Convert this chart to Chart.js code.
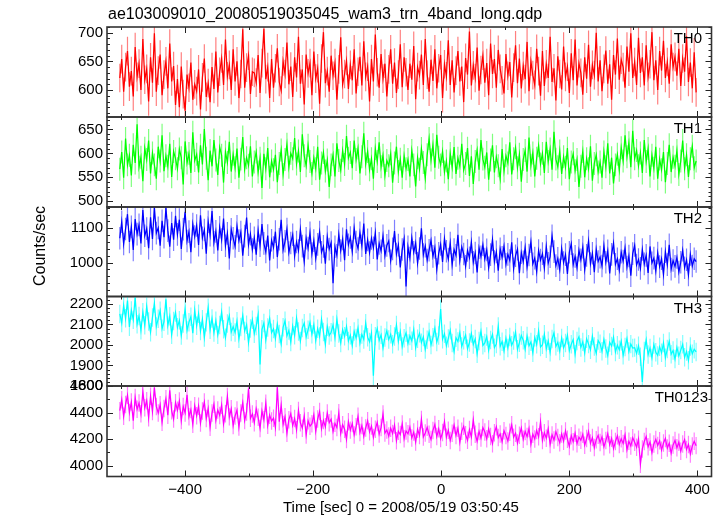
<!DOCTYPE html>
<html><head><meta charset="utf-8">
<script src="https://cdn.jsdelivr.net/npm/chart.js@4.4.0/dist/chart.umd.min.js"></script>
<style>
html,body{margin:0;padding:0;background:#fff;}
#wrap{position:relative;width:724px;height:516px;overflow:hidden;font-family:"Liberation Sans",Arial,Helvetica,sans-serif;}
canvas{position:absolute;left:0;top:0;}
.txt{position:absolute;color:#000;white-space:nowrap;font-size:15px;line-height:15px;}
</style></head><body>
<div id="wrap">
<canvas id="c0" width="724" height="516"></canvas>
<canvas id="c1" width="724" height="516"></canvas>
<canvas id="c2" width="724" height="516"></canvas>
<canvas id="c3" width="724" height="516"></canvas>
<canvas id="c4" width="724" height="516"></canvas>
<div class="txt" style="left:108px;top:6px;font-size:16px;line-height:16px;">ae103009010_20080519035045_wam3_trn_4band_long.qdp</div>
<div class="txt" style="left:32px;top:192px;height:108px;width:16px;font-size:16px;line-height:16px;writing-mode:vertical-rl;transform:rotate(180deg);text-align:center;">Counts/sec</div>
<div class="txt" style="left:283px;top:499px;">Time [sec] 0 = 2008/05/19 03:50:45</div>
<div class="txt" style="right:22px;top:30px;">TH0</div>
<div class="txt" style="right:22px;top:120px;">TH1</div>
<div class="txt" style="right:22px;top:210px;">TH2</div>
<div class="txt" style="right:22px;top:300px;">TH3</div>
<div class="txt" style="right:16px;top:389px;">TH0123</div>
</div>
<script>
// ---- data ----
const times = [
-502,-499,-496,-493,-490,-487,-484,-481,-478,-475,
-472,-469,-466,-463,-460,-457,-454,-451,-448,-445,
-442,-439,-436,-433,-430,-427,-424,-421,-418,-415,
-412,-409,-406,-403,-400,-397,-394,-391,-388,-385,
-382,-379,-376,-373,-370,-367,-364,-361,-358,-355,
-352,-349,-346,-343,-340,-337,-334,-331,-328,-325,
-322,-319,-316,-313,-310,-307,-304,-301,-298,-295,
-292,-289,-286,-283,-280,-277,-274,-271,-268,-265,
-262,-259,-256,-253,-250,-247,-244,-241,-238,-235,
-232,-229,-226,-223,-220,-217,-214,-211,-208,-205,
-202,-199,-196,-193,-190,-187,-184,-181,-178,-175,
-172,-169,-166,-163,-160,-157,-154,-151,-148,-145,
-142,-139,-136,-133,-130,-127,-124,-121,-118,-115,
-112,-109,-106,-103,-100,-97,-94,-91,-88,-85,
-82,-79,-76,-73,-70,-67,-64,-61,-58,-55,
-52,-49,-46,-43,-40,-37,-34,-31,-28,-25,
-22,-19,-16,-13,-10,-7,-4,-1,2,5,
8,11,14,17,20,23,26,29,32,35,
38,41,44,47,50,53,56,59,62,65,
68,71,74,77,80,83,86,89,92,95,
98,101,104,107,110,113,116,119,122,125,
128,131,134,137,140,143,146,149,152,155,
158,161,164,167,170,173,176,179,182,185,
188,191,194,197,200,203,206,209,212,215,
218,221,224,227,230,233,236,239,242,245,
248,251,254,257,260,263,266,269,272,275,
278,281,284,287,290,293,296,299,302,305,
308,311,314,317,320,323,326,329,332,335,
338,341,344,347,350,353,356,359,362,365,
368,371,374,377,380,383,386,389,392,395,
398];

const th0 = [
621,654,597,640,668,606,633,589,675,623,
646,600,689,618,637,580,657,613,699,597,
634,662,591,627,650,603,681,615,642,574,
619,570,641,593,564,627,604,648,583,610,
598,636,566,622,655,588,612,579,640,602,
667,596,632,655,609,688,624,644,600,671,
615,650,586,628,706,604,639,660,593,632,
630,613,661,595,647,707,619,640,586,654,
604,638,673,614,599,650,628,683,610,641,
588,657,622,693,611,636,575,662,629,647,
591,667,620,638,576,655,701,612,633,597,
660,625,647,583,636,692,610,628,651,602,
644,617,671,594,632,658,608,685,623,641,
580,654,615,697,631,604,663,620,646,589,
636,671,611,648,595,627,680,605,657,631,
600,646,618,677,584,640,626,662,609,689,
627,597,653,616,671,603,638,661,586,645,
624,687,609,652,596,634,668,615,641,579,
656,627,702,608,643,621,674,599,635,660,
613,647,591,681,628,654,604,670,637,617,
594,663,625,649,587,639,678,612,655,603,
642,619,684,598,650,626,609,672,633,590,
668,607,645,621,693,614,638,582,659,628,
601,676,623,641,595,664,617,688,608,647,
630,592,657,620,679,606,644,626,700,615,
652,598,637,669,611,645,583,661,627,690,
618,653,640,604,676,632,699,621,649,609,
691,630,657,608,678,623,645,701,617,652,
600,668,634,686,621,649,611,680,640,658,
625,672,607,655,632,694,614,648,603,666,
596];

const th1 = [
567,603,549,631,576,596,554,618,580,661,
571,592,542,611,587,627,558,601,576,547,
614,584,638,563,595,573,620,551,604,589,
568,609,591,535,625,580,600,559,644,585,
598,560,617,577,651,590,544,606,573,628,
586,555,613,596,539,603,581,624,562,598,
570,610,549,588,634,567,591,575,615,552,
582,603,561,590,528,599,568,611,550,584,
566,597,540,579,607,556,587,619,571,600,
589,632,578,605,561,640,595,574,617,583,
558,591,568,614,545,580,602,563,586,530,
576,597,552,621,585,565,606,577,636,590,
602,569,627,587,611,558,593,642,578,604,
566,589,547,610,583,623,572,596,554,585,
574,599,539,580,614,562,588,549,595,568,
587,552,606,576,531,591,567,610,581,548,
597,631,586,618,570,639,592,576,604,561,
584,546,600,571,613,557,590,573,620,565,
579,611,553,594,536,583,607,566,628,588,
571,602,545,586,617,560,593,574,547,609,
563,595,580,623,556,589,612,570,598,541,
587,606,562,633,575,601,552,590,616,578,
600,559,624,583,609,566,645,588,572,605,
557,593,571,611,546,582,599,564,587,530,
573,604,550,589,568,615,543,579,597,561,
582,549,603,572,621,558,591,537,576,598,
565,612,584,638,593,622,571,647,589,606,
574,601,559,628,583,610,552,596,569,614,
547,588,566,603,540,579,618,561,592,573,
606,556,584,627,568,597,551,589,615,570,
584];

const th2 = [
1071,1119,1054,1098,1141,1060,1104,1037,1127,1083,
1110,1056,1153,1078,1099,1042,1132,1069,1161,1086,
1101,1049,1122,1074,1160,1093,1046,1115,1067,1136,
1082,1125,1040,1097,1148,1063,1090,1030,1112,1076,
1108,1051,1138,1072,1095,1026,1119,1080,1150,1059,
1091,1035,1103,1067,1128,1049,1085,1012,1097,1071,
1047,1106,1064,1089,1020,1077,1131,1052,1083,1038,
1072,1023,1094,1049,1112,1056,1031,1079,1006,1065,
1044,1090,1016,1068,1125,1037,1062,1098,1029,1057,
1081,1019,1060,1035,1096,1048,1003,1071,1042,1087,
1026,1064,1012,1053,1089,1030,1047,997,1075,1039,
1058,940,1046,1021,1082,1035,1069,1007,1097,1052,
1073,1032,1101,1060,1041,1087,1049,1114,1025,1066,
1029,1070,1043,1086,1009,1056,1034,1078,1020,1050,
1063,1005,1040,1092,1025,1051,986,1038,1069,930,
1046,1013,1072,1030,1057,998,1041,1100,1023,1048,
1007,1036,1065,1018,1044,980,1027,1053,1002,1070,
1033,1010,1057,994,1038,1021,1081,1006,1046,1025,
989,1035,1014,1060,1001,1028,971,1043,1017,1052,
1010,1037,985,1023,1067,1003,1031,976,1040,1015,
1048,995,1024,1006,1059,982,1020,1039,969,1029,
1002,1044,987,1022,1061,996,1013,973,1035,1007,
1026,984,1047,998,1017,1078,1032,991,1012,979,
1041,1000,1023,967,1030,1055,994,1018,985,1036,
1008,1045,979,1021,1063,997,1027,972,1039,1003,
1016,990,1049,1001,1034,968,1024,1057,995,1011,
978,1030,1004,1043,987,1019,962,1026,1050,993,
1009,983,1038,996,1021,970,1047,999,1013,975,
1028,988,1011,965,1032,994,1052,981,1006,989,
1015,972,1001,1036,985,1008,964,1024,990,1011,
1003];

const th3 = [
2151,2107,2193,2130,2216,2088,2168,2123,2231,2101,
2141,2071,2159,2096,2187,2114,2062,2134,2202,2090,
2128,2167,2079,2113,2222,2095,2140,2050,2117,2158,
2086,2120,2046,2104,2175,2071,2111,2137,2057,2169,
2093,2152,2068,2125,2036,2110,2181,2074,2129,2060,
2118,2049,2097,2160,2077,2035,2104,2142,2063,2089,
2061,2116,2030,2087,2144,2068,2098,2011,2080,2123,
2055,2092,2147,1905,2076,2107,2024,2085,2129,2060,
2078,2031,2101,2053,2005,2086,2118,2044,2070,2014,
2092,2047,2130,2065,2019,2083,2106,2038,2074,2110,
2052,2099,2021,2079,2041,2125,2063,2003,2089,2046,
2062,2097,2035,2125,2056,2010,2074,2042,2089,2019,
2047,1997,2066,2034,2083,2008,2051,2027,2106,2038,
2015,2058,1850,2043,2080,2022,2049,1985,2036,2069,
2026,2052,2003,2041,2097,2018,2065,1992,2033,2059,
2007,2044,2020,2075,1986,2030,2057,2011,2039,1978,
2025,2063,2000,2037,2082,2014,2046,2175,2028,2054,
1996,2032,2071,2009,1968,2035,2017,2060,1993,2023,
2048,1982,2012,2056,2002,2029,1957,2019,2067,1998,
2010,2041,1975,2024,2051,1987,2005,2090,1994,2016,
1971,2033,1985,2039,1999,2021,2062,1979,2011,2046,
2023,1978,2044,1996,2015,1962,2037,2003,2068,1990,
2001,2052,1981,2020,1964,2029,2058,1993,2012,1970,
2034,1986,2009,2047,1972,2003,2026,1955,2019,2040,
1988,2015,1961,2030,2004,1976,2043,1992,1959,2021,
2006,1969,2027,1983,1948,2012,1995,2037,1966,1999,
1977,2018,1950,1990,2031,1968,2004,1985,1987,1958,
1996,1942,1820,1971,2025,1953,1985,1937,2002,1964,
1949,1991,1962,2010,1938,1980,2017,1955,1973,1931,
1988,1947,1975,2003,1940,1968,1925,1992,1957,1979,
1966];

const th0123 = [
4414,4497,4371,4461,4531,4400,4479,4339,4513,4424,
4471,4391,4556,4435,4489,4361,4522,4408,4589,4446,
4396,4459,4327,4430,4503,4379,4568,4413,4351,4474,
4417,4486,4339,4445,4397,4534,4368,4422,4311,4451,
4376,4448,4320,4412,4479,4355,4430,4289,4396,4462,
4341,4418,4378,4455,4312,4390,4521,4367,4428,4301,
4374,4418,4290,4397,4475,4339,4404,4581,4356,4389,
4323,4429,4364,4280,4412,4345,4470,4303,4380,4335,
4357,4286,4590,4331,4454,4310,4368,4244,4346,4391,
4301,4354,4269,4415,4322,4282,4373,4230,4337,4297,
4316,4383,4258,4351,4407,4278,4340,4292,4396,4323,
4350,4256,4318,4287,4398,4242,4308,4274,4197,4330,
4267,4317,4231,4292,4371,4249,4301,4220,4283,4337,
4254,4298,4212,4274,4325,4237,4286,4389,4245,4268,
4222,4281,4241,4305,4187,4258,4234,4314,4202,4261,
4239,4290,4208,4252,4177,4273,4226,4348,4215,4246,
4288,4235,4196,4265,4310,4218,4277,4203,4249,4330,
4214,4266,4189,4243,4305,4227,4281,4174,4259,4296,
4232,4190,4271,4215,4344,4236,4183,4257,4207,4286,
4253,4201,4276,4219,4165,4248,4292,4211,4238,4180,
4262,4226,4185,4251,4307,4214,4244,4170,4229,4283,
4198,4257,4218,4279,4161,4236,4200,4264,4217,4329,
4189,4248,4206,4276,4159,4231,4192,4255,4212,4172,
4238,4183,4261,4198,4144,4225,4180,4244,4165,4214,
4191,4235,4153,4204,4257,4169,4211,4136,4195,4228,
4173,4216,4142,4188,4240,4157,4205,4128,4181,4224,
4159,4202,4166,4231,4120,4183,4147,4210,4176,4138,
4199,4010,4125,4181,4218,4141,4177,4098,4162,4197,
4151,4186,4116,4170,4204,4132,4168,4093,4155,4189,
4134,4176,4108,4162,4195,4121,4159,4087,4147,4183,
4150];

const seriesNames = ['TH0','TH1','TH2','TH3','TH0123'];
const seriesValues = [th0, th1, th2, th3, th0123];
const seriesErrors = [25, 24, 33, 45, 66];
const yMins = [553, 488, 901, 1800, 3917];
const yMaxs = [710, 676, 1162, 2236, 4600];
const xTickLabels = [-400, -200, 0, 200, 400];

// ---- styling / layout ----
const colors = ['#ff0000','#00ff00','#0000ff','#00ffff','#ff00ff'];
const errColors = ['rgba(255,0,0,0.5)','rgba(0,255,0,0.5)','rgba(0,0,255,0.5)','rgba(0,255,255,0.5)','rgba(255,0,255,0.5)'];
const yMajor = [50, 50, 100, 100, 200];
const yMinor = [10, 10, 20, 20, 100];
const panelTops = [27, 117, 207, 296.5, 386];
const panelBottoms = [117, 207, 296.5, 386, 476.5];
const X_MIN = -522, X_MAX = 422;
const FONT = '"Liberation Sans", Arial, Helvetica, sans-serif';
Chart.defaults.font.family = FONT;
Chart.defaults.color = '#000';

function fmt(v){ return v < 0 ? '\u2212' + (-v) : String(v); }

const errorBars = {
  id: 'errorBars',
  beforeDatasetsDraw(chart, args, opts) {
    const {ctx, chartArea: a} = chart;
    const xs = chart.scales.x, ys = chart.scales.y;
    const vals = opts.values, e = opts.err;
    ctx.save();
    ctx.beginPath(); ctx.rect(a.left, a.top, a.right - a.left, a.bottom - a.top); ctx.clip();
    ctx.strokeStyle = opts.color; ctx.lineWidth = 1.2;
    ctx.beginPath();
    for (let i = 0; i < vals.length; i++) {
      const px = xs.getPixelForValue(times[i]);
      ctx.moveTo(px, ys.getPixelForValue(vals[i] - e));
      ctx.lineTo(px, ys.getPixelForValue(vals[i] + e));
    }
    ctx.stroke();
    ctx.restore();
  }
};

const frame = {
  id: 'frame',
  afterDraw(chart, args, opts) {
    const {ctx, chartArea: a} = chart;
    const xs = chart.scales.x, ys = chart.scales.y;
    ctx.save();
    ctx.strokeStyle = '#222'; ctx.lineWidth = 1;
    ctx.beginPath();
    for (let v = Math.ceil(xs.min / 100) * 100; v <= xs.max; v += 100) {
      const px = Math.round(xs.getPixelForValue(v)) + 0.5;
      const len = (v % 200 === 0) ? 6 : 3;
      ctx.moveTo(px, a.top); ctx.lineTo(px, a.top + len);
      ctx.moveTo(px, a.bottom); ctx.lineTo(px, a.bottom - len);
    }
    const mn = opts.minor, mj = opts.major;
    for (let v = Math.ceil(ys.min / mn) * mn; v <= ys.max; v += mn) {
      const py = Math.round(ys.getPixelForValue(v)) + 0.5;
      const len = (Math.abs(v % mj) < 1e-6) ? 6 : 3;
      ctx.moveTo(a.left, py); ctx.lineTo(a.left + len, py);
      ctx.moveTo(a.right, py); ctx.lineTo(a.right - len, py);
    }
    ctx.stroke();
    ctx.lineWidth = 1.6; ctx.strokeStyle = '#333';
    ctx.strokeRect(a.left, a.top, a.right - a.left, a.bottom - a.top);
    ctx.restore();
  }
};

for (let k = 0; k < 5; k++) {
  const last = k === 4;
  const pts = times.map((t, i) => ({x: t, y: seriesValues[k][i]}));
  new Chart(document.getElementById('c' + k), {
    type: 'line',
    data: { datasets: [{ label: seriesNames[k], data: pts, borderColor: colors[k], borderWidth: 1.25, pointRadius: 0, tension: 0, fill: false }] },
    options: {
      responsive: false, animation: false, devicePixelRatio: 1,
      events: [],
      layout: { padding: { left: 47, right: 12.5, top: panelTops[k], bottom: last ? 0 : 516 - panelBottoms[k] } },
      plugins: {
        legend: { display: false }, tooltip: { enabled: false }, title: { display: false },
        errorBars: { values: seriesValues[k], err: seriesErrors[k], color: errColors[k] },
        frame: { major: yMajor[k], minor: yMinor[k] }
      },
      scales: {
        x: {
          type: 'linear', min: X_MIN, max: X_MAX, display: last,
          afterFit(s) { if (last) s.height = 516 - panelBottoms[4]; },
          afterBuildTicks(s) { s.ticks = xTickLabels.map(v => ({value: v})); },
          grid: { display: false, drawTicks: false }, border: { display: false },
          ticks: { padding: 4, maxRotation: 0, autoSkip: false, font: { size: 15 }, callback: fmt }
        },
        y: {
          type: 'linear', min: yMins[k], max: yMaxs[k],
          afterFit(s) { s.width = 60; },
          grid: { display: false, drawTicks: false }, border: { display: false },
          ticks: { stepSize: yMajor[k], includeBounds: false, autoSkip: false, padding: 4, font: { size: 15 }, callback: v => String(v) }
        }
      }
    },
    plugins: [errorBars, frame]
  });
}
</script>
</body></html>
